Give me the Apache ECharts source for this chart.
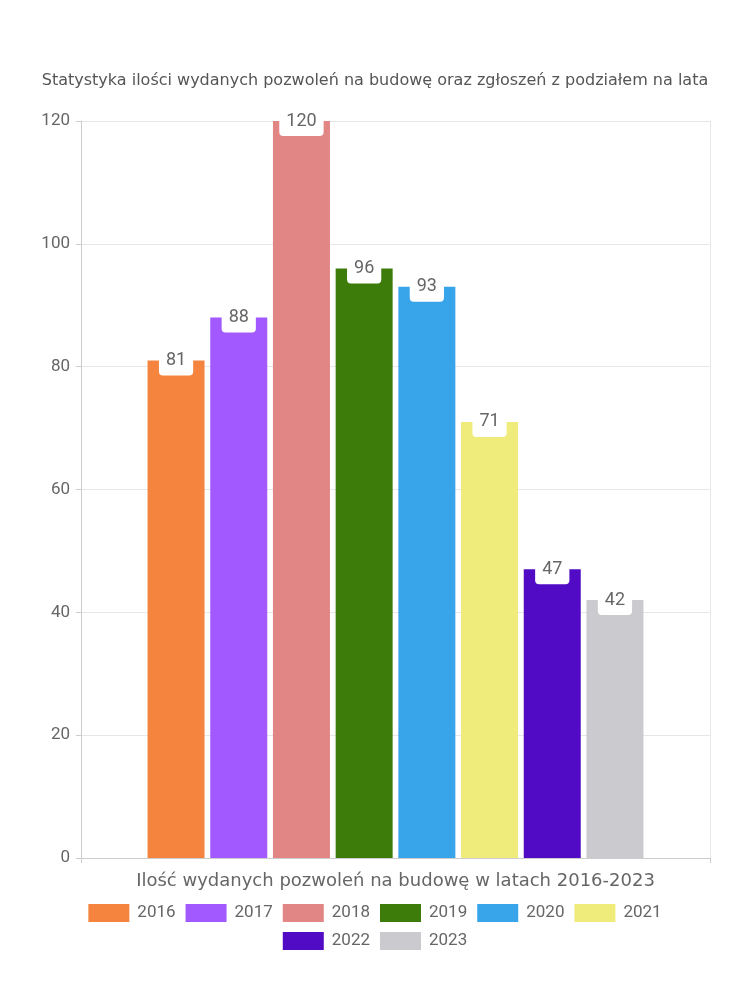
<!DOCTYPE html>
<html>
<head>
<meta charset="utf-8">
<script src="https://cdn.jsdelivr.net/npm/echarts@6/dist/echarts.min.js"></script>
<style>html,body{margin:0;padding:0;background:#fff}#c{width:750px;height:1000px}</style>
</head>
<body>
<div id="c"></div>
<script>
var titleText = 'Statystyka ilości wydanych pozwoleń na budowę oraz zgłoszeń z podziałem na lata';
var categories = ['Ilość wydanych pozwoleń na budowę w latach 2016-2023'];
var years = ['2016', '2017', '2018', '2019', '2020', '2021', '2022', '2023'];
var values = [81, 88, 120, 96, 93, 71, 47, 42];
var colors = ['#f5843f', '#a259ff', '#e28585', '#3d7c0b', '#38a4ea', '#f0ec7c', '#520bc4', '#cbcbcf'];
var yTicks = {min: 0, max: 120, interval: 20};
var legendRow1 = years.slice(0, 6);
var legendRow2 = years.slice(6);

var chart = echarts.init(document.getElementById('c'));
var series = years.map(function (y, i) {
  return {
    name: y,
    type: 'bar',
    data: [values[i]],
    barWidth: 57,
    barGap: '10%',
    itemStyle: {color: colors[i]},
    label: {
      show: true,
      position: 'insideTop',
      distance: 0,
      offset: [0, -15],
      backgroundColor: '#fff',
      borderRadius: 4,
      padding: [6, 7, 6, 7],
      lineHeight: 18,
      color: '#666',
      fontSize: 18,
      fontFamily: 'Roboto'
    }
  };
});
function legendCfg(data, top) {
  return {
    data: data,
    left: 'center',
    top: top,
    padding: 0,
    itemWidth: 41,
    itemHeight: 18,
    itemGap: 10,
    icon: 'rect',
    textStyle: {fontSize: 17, color: '#666', fontFamily: 'Roboto', lineHeight: 17, padding: [0, 0, 0, 3]}
  };
}
chart.setOption({
  animation: false,
  title: {
    text: titleText,
    left: 'center',
    top: 73,
    padding: 0,
    textStyle: {fontSize: 16, fontWeight: 'normal', color: '#555', fontFamily: 'DejaVu Sans'}
  },
  grid: {left: 81, right: 40, top: 121, bottom: 142},
  legend: [legendCfg(legendRow1, 904), legendCfg(legendRow2, 932)],
  xAxis: {
    type: 'category',
    data: categories,
    axisLine: {lineStyle: {color: '#ccc'}},
    axisTick: {show: true, length: 5, lineStyle: {color: '#ccc'}},
    splitLine: {show: true, lineStyle: {color: '#e6e6e6'}},
    axisLabel: {color: '#666', fontSize: 18, margin: 14, fontFamily: 'DejaVu Sans'}
  },
  yAxis: {
    type: 'value',
    min: yTicks.min,
    max: yTicks.max,
    interval: yTicks.interval,
    axisLine: {show: true, lineStyle: {color: '#ccc'}},
    axisTick: {show: true, length: 5, lineStyle: {color: '#ccc'}},
    splitLine: {lineStyle: {color: '#e6e6e6'}},
    axisLabel: {color: '#666', fontSize: 17, margin: 11, fontFamily: 'Roboto'}
  },
  series: series
});
</script>
</body>
</html>
